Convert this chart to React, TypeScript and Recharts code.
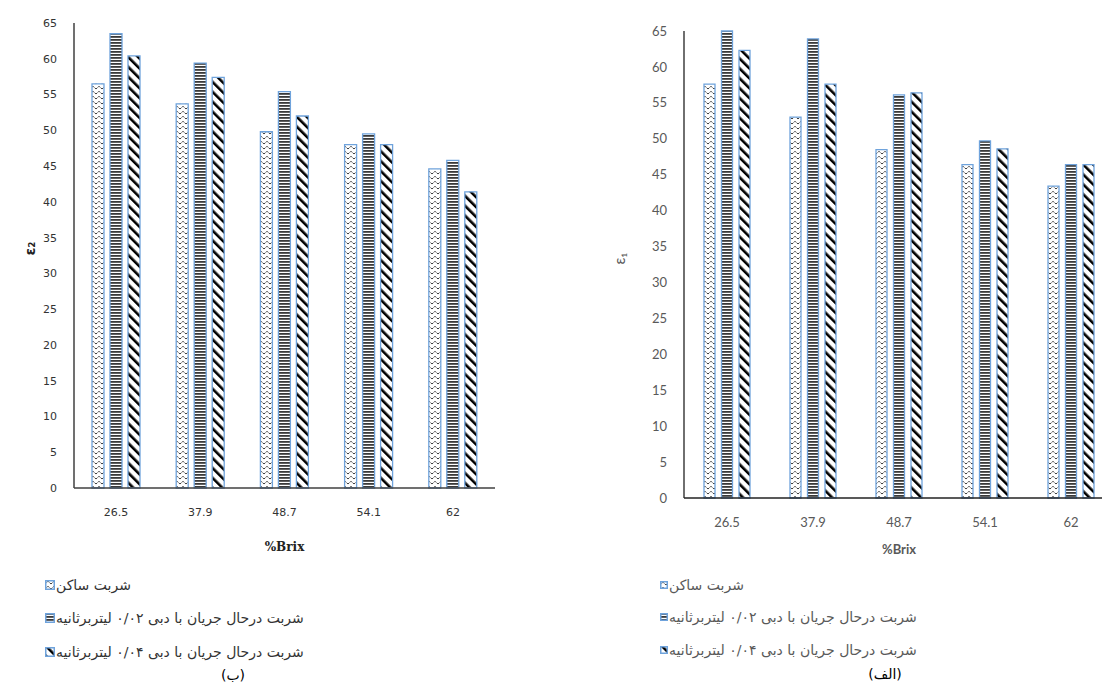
import React from "react";
import { BarChart, Bar, XAxis, YAxis, Label } from "recharts";

const categories = ["26.5", "37.9", "48.7", "54.1", "62"];

// chart (ب) on the left
const leftStill = [56.5, 53.7, 49.8, 48.0, 44.6];
const leftFlow002 = [63.5, 59.4, 55.4, 49.5, 45.8];
const leftFlow004 = [60.4, 57.4, 52.0, 48.0, 41.4];

// chart (الف) on the right
const rightStill = [57.6, 53.0, 48.5, 46.4, 43.4];
const rightFlow002 = [65.0, 63.9, 56.1, 49.7, 46.4];
const rightFlow004 = [62.3, 57.6, 56.4, 48.6, 46.4];

const yTicks = [0, 5, 10, 15, 20, 25, 30, 35, 40, 45, 50, 55, 60, 65];

const seriesNames = [
    "شربت ساکن",
    "شربت درحال جریان با دبی ۰/۰۲ لیتربرثانیه",
    "شربت درحال جریان با دبی ۰/۰۴ لیتربرثانیه",
];

const BAR_STROKE = "#6fa3dc";

function buildRows(a: number[], b: number[], c: number[]) {
    return categories.map((cat, i) => ({ cat, still: a[i], flow002: b[i], flow004: c[i] }));
}

function Patterns({ prefix }: { prefix: string }) {
    return (
        <defs>
            <pattern id={`${prefix}-zig`} patternUnits="userSpaceOnUse" width={6} height={5}>
                <rect width={6} height={5} fill="#fff" />
                <path d="M0,4 L3,1.2 L6,4" fill="none" stroke="#222" strokeWidth={0.9} strokeDasharray="1.6 0.6" />
            </pattern>
            <pattern id={`${prefix}-hor`} patternUnits="userSpaceOnUse" width={4} height={3}>
                <rect width={4} height={3} fill="#fff" />
                <rect width={4} height={1.8} fill="#3a3a3a" />
            </pattern>
            <pattern id={`${prefix}-diag`} patternUnits="userSpaceOnUse" width={7} height={7} patternTransform="rotate(-45)">
                <rect width={7} height={7} fill="#fff" />
                <rect width={2.6} height={7} fill="#000" />
            </pattern>
        </defs>
    );
}

const fills = ["zig", "hor", "diag"];
const keys = ["still", "flow002", "flow004"];

function LegendBox({ prefix, size, idx }: { prefix: string; size: number; idx: number }) {
    return (
        <svg width={size} height={size} style={{ display: "block" }}>
            <Patterns prefix={prefix} />
            <rect x={0.75} y={0.75} width={size - 1.5} height={size - 1.5}
                fill={`url(#${prefix}-${fills[idx]})`} stroke={BAR_STROKE} strokeWidth={1.5} />
        </svg>
    );
}

function LegendBlock({ left, tops, prefix, size, font, color }: {
    left: number; tops: number[]; prefix: string; size: number; font: number; color: string;
}) {
    return (
        <>
            {seriesNames.map((name, i) => (
                <div key={name} style={{
                    position: "absolute", left, top: tops[i], display: "flex", alignItems: "center",
                    fontFamily: "'DejaVu Sans', sans-serif", fontSize: font, color, whiteSpace: "nowrap",
                }}>
                    <LegendBox prefix={`${prefix}${i}`} size={size} idx={i} />
                    <span dir="rtl" style={{ marginLeft: 1 }}>{name}</span>
                </div>
            ))}
        </>
    );
}

export default function App() {
    const leftRows = buildRows(leftStill, leftFlow002, leftFlow004);
    const rightRows = buildRows(rightStill, rightFlow002, rightFlow004);

    const leftTick = { fontFamily: "'DejaVu Sans', sans-serif", fontSize: 11, fill: "#333" };
    const rightTick = { fontFamily: "Lato, 'Open Sans', sans-serif", fontSize: 13, fill: "#595959" };

    return (
        <div style={{ position: "absolute", left: 0, top: 0, width: 1102, height: 687, overflow: "hidden", background: "#fff" }}>
            {/* (ب) */}
            <div style={{ position: "absolute", left: 0, top: 0 }}>
                <BarChart width={500} height={560} data={leftRows}
                    margin={{ top: 23, right: 5, left: 0, bottom: 0 }} barSize={12} barGap={6}>
                    <Patterns prefix="lp" />
                    <XAxis dataKey="cat" height={72} tickLine={false} tickMargin={14}
                        axisLine={{ stroke: "#404040", strokeWidth: 1.5 }} tick={leftTick}>
                        <Label value="%Brix" position="insideBottom" offset={9}
                            style={{ fontFamily: "'DejaVu Serif', serif", fontWeight: 700, fontSize: 12, fill: "#222" }} />
                    </XAxis>
                    <YAxis width={74} domain={[0, 65]} ticks={yTicks} interval={0} tickLine={false} tickMargin={11}
                        axisLine={{ stroke: "#404040", strokeWidth: 1.5 }} tick={leftTick}>
                        <Label value="ε₂" angle={-90} position="insideLeft" offset={30}
                            style={{ fontFamily: "'DejaVu Sans', sans-serif", fontWeight: 700, fontSize: 14, fill: "#222" }} />
                    </YAxis>
                    {keys.map((k, i) => (
                        <Bar key={k} dataKey={k} fill={`url(#lp-${fills[i]})`} stroke={BAR_STROKE}
                            strokeWidth={1.3} isAnimationActive={false} />
                    ))}
                </BarChart>
            </div>

            {/* (الف) */}
            <div style={{ position: "absolute", left: 600, top: 0 }}>
                <BarChart width={514} height={570} data={rightRows}
                    margin={{ top: 31, right: 0, left: 0, bottom: 0 }} barSize={11} barGap={6.5}>
                    <Patterns prefix="rp" />
                    <XAxis dataKey="cat" height={72} tickLine={false} tickMargin={14}
                        axisLine={{ stroke: "#222", strokeWidth: 1.3 }} tick={rightTick}>
                        <Label value="%Brix" position="insideBottom" offset={16}
                            style={{ fontFamily: "Lato, 'Open Sans', sans-serif", fontWeight: 700, fontSize: 13, fill: "#595959" }} />
                    </XAxis>
                    <YAxis width={84} domain={[0, 65]} ticks={yTicks} interval={0} tickLine={false} tickMargin={11}
                        axisLine={{ stroke: "#222", strokeWidth: 1.3 }} tick={rightTick}>
                        <Label value="ε₁" angle={-90} position="insideLeft" offset={20}
                            style={{ fontFamily: "Lato, 'Open Sans', sans-serif", fontSize: 15, fill: "#595959" }} />
                    </YAxis>
                    {keys.map((k, i) => (
                        <Bar key={k} dataKey={k} fill={`url(#rp-${fills[i]})`} stroke={BAR_STROKE}
                            strokeWidth={1.3} isAnimationActive={false} />
                    ))}
                </BarChart>
            </div>

            <LegendBlock left={45} tops={[577, 610, 644]} prefix="llg" size={10} font={14} color="#333" />
            <LegendBlock left={660} tops={[577, 609, 642]} prefix="rlg" size={8} font={14} color="#595959" />

            <div style={{ position: "absolute", left: 213, top: 667, width: 40, textAlign: "center", fontFamily: "'DejaVu Sans', sans-serif", fontSize: 14, color: "#000" }}>(ب)</div>
            <div style={{ position: "absolute", left: 855, top: 666, width: 60, textAlign: "center", fontFamily: "'DejaVu Sans', sans-serif", fontSize: 14, color: "#000" }}>(الف)</div>
        </div>
    );
}
